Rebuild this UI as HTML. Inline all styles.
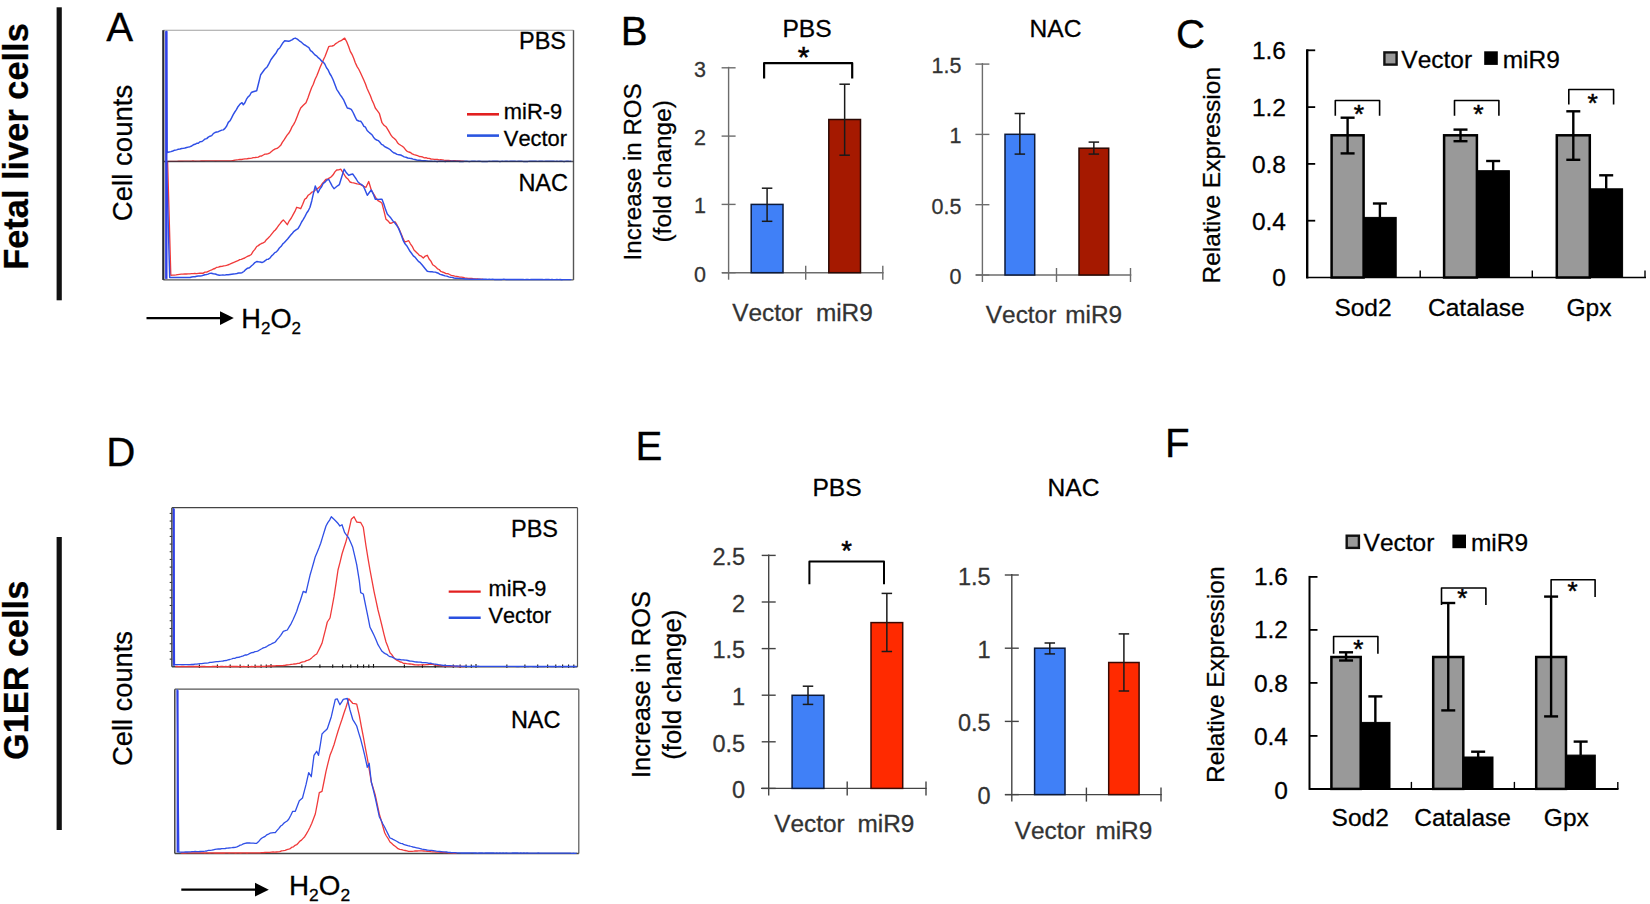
<!DOCTYPE html>
<html lang="en">
<head>
<meta charset="utf-8">
<title>Figure: miR-9 and ROS</title>
<style>
html,body{margin:0;padding:0;background:#fff;}
body{width:1650px;height:904px;overflow:hidden;}
svg{display:block;}
svg text{font-family:'Liberation Sans', sans-serif;font-kerning:none;}
</style>
</head>
<body>
<svg width="1650" height="904" viewBox="0 0 1650 904" font-family="'Liberation Sans', sans-serif">
<rect x="0" y="0" width="1650" height="904" fill="#fff"/>
<text x="27.60" y="269.80" font-size="34.4" text-anchor="start" font-weight="bold" fill="#000" transform="rotate(-90 27.60 269.80)" stroke="#000" stroke-width="0.28">Fetal liver cells</text>
<rect x="56.60" y="7.30" width="5.20" height="293.00" fill="#111" stroke="none" stroke-width="0"/>
<text x="28.00" y="760.00" font-size="34.3" text-anchor="start" font-weight="bold" fill="#000" transform="rotate(-90 28.00 760.00)" stroke="#000" stroke-width="0.28">G1ER cells</text>
<rect x="56.60" y="537.00" width="5.20" height="293.00" fill="#111" stroke="none" stroke-width="0"/>
<text x="106.20" y="40.90" font-size="40.3" text-anchor="start" font-weight="normal" fill="#000" stroke="#000" stroke-width="0.28">A</text>
<text x="132.40" y="221.20" font-size="27.6" text-anchor="start" font-weight="normal" fill="#000" transform="rotate(-90 132.40 221.20)" stroke="#000" stroke-width="0.28">Cell counts</text>
<line x1="163.30" y1="30.20" x2="573.50" y2="30.20" stroke="#a0a0a0" stroke-width="1.1"/>
<line x1="573.50" y1="30.20" x2="573.50" y2="279.90" stroke="#555" stroke-width="1.4"/>
<line x1="163.30" y1="279.90" x2="573.50" y2="279.90" stroke="#555" stroke-width="1.4"/>
<polyline points="167.3,161.3 168.9,161.3 170.5,161.3 172.2,161.4 173.8,161.3 175.4,161.3 177.0,161.3 178.6,161.2 180.2,161.2 181.8,161.2 183.4,161.2 185.0,161.1 186.6,161.1 188.2,161.1 189.8,161.2 191.4,161.2 193.0,161.0 194.6,161.2 196.3,161.2 197.9,161.1 199.5,161.1 201.1,161.0 202.7,160.9 204.3,161.0 205.9,160.9 207.5,160.9 209.1,160.9 210.7,160.9 212.3,160.9 213.9,160.9 215.5,161.0 217.1,160.9 218.8,160.9 220.4,160.9 222.0,160.9 223.6,160.8 225.2,160.8 226.8,160.9 228.4,160.9 230.0,160.8 231.7,160.7 233.3,160.5 235.0,160.1 236.7,159.9 238.3,159.7 240.0,159.4 241.7,159.5 243.3,159.2 245.0,158.9 246.7,158.9 248.3,158.5 250.0,158.4 251.7,158.2 253.3,157.6 255.0,157.5 256.7,157.3 258.3,157.1 260.0,156.2 261.7,156.0 263.3,155.0 265.0,154.2 266.7,154.0 268.3,153.6 270.0,152.8 271.8,151.3 273.6,149.8 275.3,148.9 277.1,148.4 278.9,146.9 280.7,145.3 282.3,142.4 283.9,140.2 285.5,137.6 287.1,135.1 288.7,133.3 290.3,130.7 292.0,126.9 293.7,124.4 295.3,121.3 297.1,116.8 298.9,112.0 300.7,108.0 303.3,105.3 306.0,102.7 308.0,97.7 310.0,92.0 311.7,87.5 313.3,84.2 315.0,79.5 316.7,76.0 318.3,71.9 320.0,67.6 321.7,63.7 323.3,60.0 325.1,56.2 326.9,51.5 328.7,46.7 330.4,46.1 332.2,46.0 334.0,45.3 335.8,43.6 337.6,42.5 339.3,41.3 341.1,40.7 342.9,39.4 344.7,38.1 346.7,41.8 348.7,46.7 350.3,51.4 352.0,54.3 353.7,58.3 355.3,62.7 357.1,66.6 358.9,69.5 360.7,73.3 362.3,76.8 363.9,80.2 365.5,84.0 367.1,88.4 368.7,92.0 370.3,95.6 372.0,100.1 373.7,103.8 375.3,108.0 377.3,110.6 379.3,113.3 382.0,122.7 384.0,125.3 386.0,126.7 387.7,129.3 389.3,132.1 391.0,135.2 392.7,137.3 394.3,138.5 395.9,140.0 397.5,142.7 399.1,144.2 400.7,145.3 402.3,146.3 403.9,147.6 405.5,149.7 407.1,151.3 408.7,152.0 410.4,152.5 412.2,153.9 414.0,154.6 415.8,155.1 417.6,155.7 419.3,156.5 421.0,156.7 422.7,157.0 424.3,157.8 426.0,157.7 427.7,158.3 429.3,158.4 431.0,159.0 432.7,159.2 434.3,159.4 435.9,159.4 437.5,159.5 439.1,159.8 440.7,159.7 442.3,159.9 443.9,160.2 445.5,160.4 447.1,160.4 448.7,160.5 450.3,160.6 451.9,160.8 453.5,160.7 455.1,160.7 456.7,160.9 458.3,161.0 459.9,161.0 461.5,161.1 463.1,161.2 464.7,161.3" fill="none" stroke="#f03a3a" stroke-width="1.35" stroke-linejoin="round"/>
<polyline points="166.5,30.7 167.1,152.5 169.0,152.0 170.9,151.6 172.8,151.0 174.7,150.2 176.7,149.9 178.3,149.2 180.0,149.0 181.7,148.5 183.3,148.4 185.0,148.0 186.7,147.5 188.3,147.1 190.0,146.7 191.7,146.0 193.3,144.8 195.0,144.3 196.7,143.3 198.3,143.2 200.0,141.7 201.7,141.6 203.3,140.5 205.0,139.0 206.7,138.6 208.3,137.1 210.0,136.2 211.7,135.6 213.3,133.6 215.0,132.5 216.7,132.0 218.3,131.7 220.0,130.9 221.7,130.1 223.3,129.9 225.0,128.4 226.7,126.0 228.3,122.4 230.0,120.8 231.6,117.9 233.2,114.6 234.8,112.0 236.4,109.7 238.0,106.7 240.0,104.1 242.0,102.7 243.3,104.8 244.9,102.7 246.5,99.2 248.1,96.9 249.7,95.5 251.3,92.5 253.1,91.8 254.9,91.2 256.7,90.7 258.7,82.8 260.7,74.7 262.7,72.0 264.7,69.3 267.3,66.7 269.1,63.4 270.9,59.7 272.7,57.3 274.4,55.0 276.2,52.7 278.0,49.3 279.7,48.0 281.3,45.3 283.0,42.7 284.7,40.8 286.7,41.0 288.7,41.3 290.3,40.7 292.0,39.9 293.7,38.6 295.3,38.1 297.3,39.1 299.3,40.8 300.9,41.8 302.5,43.2 304.1,44.7 305.7,45.5 307.3,46.7 308.9,47.6 310.5,50.6 312.1,51.7 313.7,53.5 315.3,55.2 316.9,56.2 318.5,57.9 320.1,59.2 321.7,61.2 323.3,62.1 324.9,64.3 326.5,67.8 328.1,69.9 329.7,73.5 331.3,76.0 333.1,79.7 334.9,84.5 336.7,89.3 338.4,91.8 340.2,94.9 342.0,97.3 343.8,100.2 345.6,104.4 347.3,108.0 349.3,108.5 351.3,109.3 353.1,112.5 354.9,116.4 356.7,120.0 358.7,121.0 360.7,121.3 362.3,123.4 363.9,126.3 365.5,127.2 367.1,130.5 368.7,132.0 370.3,133.4 371.9,134.7 373.5,137.2 375.1,139.1 376.7,140.0 378.3,140.6 379.9,142.3 381.5,144.4 383.1,145.1 384.7,146.7 386.4,147.5 388.2,148.3 390.0,149.5 391.8,151.2 393.6,152.8 395.3,153.3 397.1,154.4 398.9,154.7 400.7,155.0 402.4,155.9 404.2,156.9 406.0,157.3 407.8,158.0 409.6,158.3 411.3,158.5 413.1,159.1 414.9,159.5 416.7,160.0 418.3,160.2 420.0,160.3 421.7,160.6 423.3,160.8 425.0,160.7 426.7,160.9 428.3,161.3 430.0,161.3 431.6,161.3 433.2,161.4 434.8,161.3 436.4,161.4 438.0,161.4 439.6,161.3 441.2,161.3 442.8,161.3 444.5,161.4 446.1,161.4 447.7,161.3 449.3,161.4 450.9,161.3 452.5,161.3 454.1,161.3 455.7,161.4 457.3,161.3 458.9,161.4 460.5,161.4 462.1,161.4 463.7,161.4 465.3,161.3 466.9,161.3 468.5,161.4 470.2,161.4 471.8,161.3 473.4,161.3 475.0,161.3 476.6,161.4 478.2,161.3 479.8,161.3 481.4,161.4 483.0,161.4 484.6,161.4 486.2,161.4 487.8,161.4 489.4,161.3 491.0,161.4 492.6,161.3 494.2,161.3 495.8,161.3 497.5,161.3 499.1,161.4 500.7,161.4 502.3,161.3 503.9,161.4 505.5,161.3 507.1,161.3 508.7,161.4 510.3,161.3 511.9,161.3 513.5,161.3 515.1,161.3 516.7,161.4 518.3,161.3 519.9,161.3 521.5,161.3 523.2,161.4 524.8,161.4 526.4,161.4 528.0,161.4 529.6,161.3 531.2,161.3 532.8,161.3 534.4,161.3 536.0,161.3 537.6,161.4 539.2,161.3 540.8,161.3 542.4,161.3 544.0,161.4 545.6,161.3 547.2,161.3 548.8,161.3 550.5,161.3 552.1,161.3 553.7,161.3 555.3,161.4 556.9,161.3 558.5,161.4 560.1,161.3 561.7,161.3 563.3,161.4 564.9,161.4 566.5,161.3 568.1,161.3 569.7,161.4 571.3,161.3" fill="none" stroke="#2f4fe6" stroke-width="1.45" stroke-linejoin="round"/>
<polyline points="167.6,162.0 169.2,218.4 170.8,275.3 172.5,275.2 174.3,275.1 176.0,274.9 177.7,274.6 179.5,274.4 181.2,274.2 182.9,274.1 184.7,274.0 186.4,274.0 188.1,273.8 189.8,273.8 191.5,273.6 193.2,273.6 194.8,273.5 196.5,273.6 198.2,273.4 199.9,273.2 201.6,273.2 203.3,273.2 205.0,272.2 206.7,272.1 208.3,271.3 210.0,270.5 211.7,269.8 213.3,269.0 215.0,268.5 216.7,267.3 218.4,267.1 220.2,266.5 222.0,266.4 223.8,265.9 225.6,265.7 227.3,265.2 229.1,264.5 230.9,263.6 232.7,262.8 234.4,262.1 236.2,261.3 238.0,260.7 239.7,259.6 241.3,259.4 243.0,258.6 244.7,258.0 246.3,257.0 248.0,256.1 249.7,255.5 251.3,254.5 253.1,251.4 254.9,249.4 256.7,246.5 258.3,245.6 259.9,244.4 261.5,243.5 263.1,242.9 264.7,242.0 266.4,239.7 268.2,238.0 270.0,236.1 271.8,233.9 273.6,231.6 275.3,230.0 276.9,228.0 278.5,225.6 280.1,223.6 281.7,221.5 283.3,219.9 285.3,222.1 287.3,224.7 289.3,220.8 291.3,218.0 293.1,214.6 294.9,211.4 296.7,207.3 298.7,207.9 300.7,208.7 302.7,204.3 304.7,199.3 306.4,198.1 308.2,195.2 310.0,194.0 311.8,192.2 313.6,191.7 315.3,190.0 317.1,189.1 318.9,187.5 320.7,186.0 322.4,183.4 324.2,181.5 326.0,179.3 327.8,178.8 329.6,177.9 331.3,176.7 333.1,174.8 334.9,171.9 336.7,170.0 338.7,169.8 340.7,169.2 342.7,172.1 344.7,175.3 346.4,177.8 348.2,179.3 350.0,182.0 351.8,182.7 353.6,182.9 355.3,183.3 357.1,183.9 358.9,184.1 360.7,184.7 362.4,185.7 364.2,186.5 366.0,187.3 368.7,181.5 371.3,190.0 373.1,193.2 374.9,196.1 376.7,199.3 378.4,200.9 380.2,201.8 382.0,203.3 384.0,211.1 386.0,219.3 388.0,220.9 390.0,223.3 391.8,223.0 393.6,222.2 395.3,222.0 397.1,225.2 398.9,228.6 400.7,232.7 402.7,237.5 404.7,242.0 406.7,241.4 408.7,240.7 410.4,243.8 412.2,246.3 414.0,250.0 415.8,251.7 417.6,253.4 419.3,255.3 421.3,256.2 423.3,258.0 425.3,256.1 427.3,255.3 429.1,259.0 430.9,261.1 432.7,264.7 434.3,265.8 435.9,267.1 437.5,268.8 439.1,269.5 440.7,271.3 442.4,272.0 444.2,272.6 446.0,273.6 447.8,273.6 449.6,274.5 451.3,275.3 453.0,275.7 454.7,276.2 456.3,276.3 458.0,276.7 459.7,277.1 461.3,277.2 463.0,277.4 464.7,278.0 466.4,278.1 468.1,278.4 469.8,278.4 471.5,278.4 473.2,278.7 474.8,278.8 476.5,278.8 478.2,279.0 479.9,279.1 481.6,279.1 483.3,279.3" fill="none" stroke="#f03a3a" stroke-width="1.35" stroke-linejoin="round"/>
<polyline points="166.5,162.0 168.1,219.3 169.7,277.5 171.4,277.5 173.1,277.5 174.8,277.5 176.5,277.4 178.2,277.4 179.9,277.5 181.6,277.5 183.2,277.4 184.9,277.5 186.6,277.5 188.3,277.5 190.0,277.5 191.7,277.0 193.3,276.8 195.0,276.8 196.7,276.3 198.3,276.0 200.0,276.0 201.7,275.7 203.3,275.3 204.9,274.7 206.5,274.5 208.1,274.1 209.7,273.4 211.3,273.2 213.3,273.8 215.3,274.0 217.3,274.7 219.3,275.3 221.1,275.1 222.9,275.0 224.7,275.1 226.4,274.8 228.2,274.8 230.0,274.5 231.7,274.2 233.4,274.0 235.1,273.9 236.9,273.5 238.6,273.0 240.3,273.0 242.0,272.7 243.9,271.5 245.7,269.6 247.6,268.2 249.5,267.8 251.3,266.0 253.1,264.5 254.9,262.6 256.7,261.5 258.4,261.8 260.2,262.0 262.0,262.5 263.6,261.9 265.2,260.7 266.8,259.4 268.4,259.2 270.0,258.0 271.6,255.9 273.2,254.5 274.8,252.6 276.4,251.9 278.0,250.0 279.6,247.7 281.2,246.3 282.8,243.9 284.4,242.5 286.0,240.7 287.6,239.0 289.2,237.0 290.8,235.0 292.4,233.2 294.0,231.3 296.0,229.9 298.0,228.7 299.8,225.7 301.6,222.0 303.3,219.3 305.0,216.3 306.7,213.0 308.3,210.8 310.0,207.3 311.8,200.7 313.6,192.6 315.3,186.0 318.0,192.7 319.8,189.1 321.6,186.7 323.3,183.3 325.1,182.1 326.9,180.1 328.7,179.3 330.4,182.7 332.2,186.1 334.0,188.7 335.8,187.2 337.6,185.8 339.3,184.7 341.7,177.0 344.1,169.2 346.4,172.8 348.7,175.3 350.7,174.5 352.7,174.0 354.4,176.4 356.2,179.0 358.0,182.0 359.8,183.5 361.6,184.6 363.3,186.0 365.3,190.4 367.3,195.3 369.3,192.5 371.3,190.0 373.3,194.1 375.3,199.3 377.0,199.3 378.7,199.4 380.3,199.3 382.0,199.3 383.8,204.0 385.6,209.6 387.3,214.0 389.1,216.1 390.9,218.1 392.7,220.7 394.4,222.3 396.2,224.7 398.0,227.3 399.8,231.4 401.6,235.9 403.3,240.7 405.0,243.8 406.7,245.7 408.3,248.4 410.0,251.3 411.7,253.5 413.3,255.8 415.0,257.1 416.7,259.3 418.4,261.4 420.2,262.7 422.0,264.7 423.8,267.0 425.6,269.2 427.3,271.3 428.9,271.6 430.5,271.7 432.1,271.8 433.7,272.1 435.3,272.1 436.9,272.7 438.5,273.3 440.1,274.4 441.7,274.7 443.3,275.3 445.1,275.9 446.9,276.1 448.7,276.9 450.4,277.2 452.2,277.4 454.0,278.0 455.6,278.3 457.2,278.3 458.8,278.4 460.4,278.5 462.0,278.6 463.6,278.7 465.2,279.0 466.8,279.0 468.4,279.1 470.0,279.3 471.6,279.3 473.2,279.3 474.8,279.3 476.4,279.4 478.0,279.3 479.7,279.3 481.3,279.4 482.9,279.3 484.5,279.3 486.1,279.3 487.7,279.4 489.3,279.3 490.9,279.4 492.5,279.3 494.1,279.4 495.7,279.4 497.3,279.4 499.0,279.5 500.6,279.4 502.2,279.4 503.8,279.3 505.4,279.4 507.0,279.4 508.6,279.4 510.2,279.5 511.8,279.5 513.4,279.4 515.0,279.5 516.6,279.5 518.3,279.5 519.9,279.4 521.5,279.5 523.1,279.5 524.7,279.6 526.3,279.5 527.9,279.5 529.5,279.6 531.1,279.4 532.7,279.5 534.3,279.5 535.9,279.4 537.6,279.5 539.2,279.5 540.8,279.4 542.4,279.5 544.0,279.6 545.6,279.5 547.2,279.5 548.8,279.5 550.4,279.6 552.0,279.5 553.6,279.6 555.2,279.6 556.9,279.5 558.5,279.6 560.1,279.5 561.7,279.7 563.3,279.6 564.9,279.6 566.5,279.6 568.1,279.6 569.7,279.6 571.3,279.6" fill="none" stroke="#2f4fe6" stroke-width="1.45" stroke-linejoin="round"/>
<line x1="163.30" y1="161.60" x2="573.50" y2="161.60" stroke="#2a2c3a" stroke-width="1.5" opacity="0.8"/>
<line x1="163.30" y1="30.20" x2="163.30" y2="279.90" stroke="#2a2a33" stroke-width="2.2"/>
<line x1="166.30" y1="31.20" x2="166.30" y2="278.90" stroke="#3040e8" stroke-width="2.4"/>
<text x="566.00" y="48.70" font-size="23.5" text-anchor="end" font-weight="normal" fill="#000" stroke="#000" stroke-width="0.28">PBS</text>
<text x="568.00" y="191.30" font-size="23.5" text-anchor="end" font-weight="normal" fill="#000" stroke="#000" stroke-width="0.28">NAC</text>
<line x1="467.00" y1="114.30" x2="499.00" y2="114.30" stroke="#e22020" stroke-width="2.6"/>
<text x="503.80" y="118.80" font-size="21.9" text-anchor="start" font-weight="normal" fill="#000" stroke="#000" stroke-width="0.28">miR-9</text>
<line x1="467.00" y1="135.60" x2="499.00" y2="135.60" stroke="#2a55e0" stroke-width="2.6"/>
<text x="503.80" y="146.20" font-size="21.9" text-anchor="start" font-weight="normal" fill="#000" stroke="#000" stroke-width="0.28">Vector</text>
<line x1="146.50" y1="318.10" x2="225.80" y2="318.10" stroke="#000" stroke-width="2.2"/>
<polygon points="233.8,318.1 220.0,311.2 220.0,325.0" fill="#000"/>
<text x="241.30" y="328.00" font-size="27.2" fill="#000" stroke="#000" stroke-width="0.28">H<tspan font-size="17.0" dy="5.8">2</tspan><tspan font-size="27.2" dy="-5.8">O</tspan><tspan font-size="17.0" dy="5.8">2</tspan></text>
<text x="620.80" y="44.80" font-size="40.3" text-anchor="start" font-weight="normal" fill="#000" stroke="#000" stroke-width="0.28">B</text>
<text x="640.60" y="260.40" font-size="24.15" text-anchor="start" font-weight="normal" fill="#000" transform="rotate(-90 640.60 260.40)" stroke="#000" stroke-width="0.28">Increase in ROS</text>
<text x="671.20" y="242.50" font-size="24.4" text-anchor="start" font-weight="normal" fill="#000" transform="rotate(-90 671.20 242.50)" stroke="#000" stroke-width="0.28">(fold change)</text>
<line x1="728.60" y1="66.80" x2="728.60" y2="279.70" stroke="#6c6c6c" stroke-width="1.4"/>
<line x1="722.00" y1="272.70" x2="883.60" y2="272.70" stroke="#6c6c6c" stroke-width="1.4"/>
<line x1="721.60" y1="272.70" x2="735.60" y2="272.70" stroke="#6c6c6c" stroke-width="1.4"/>
<text x="706.00" y="281.64" font-size="21.5" text-anchor="end" font-weight="normal" fill="#333" stroke="#333" stroke-width="0.28">0</text>
<line x1="721.60" y1="204.40" x2="735.60" y2="204.40" stroke="#6c6c6c" stroke-width="1.4"/>
<text x="706.00" y="213.34" font-size="21.5" text-anchor="end" font-weight="normal" fill="#333" stroke="#333" stroke-width="0.28">1</text>
<line x1="721.60" y1="136.10" x2="735.60" y2="136.10" stroke="#6c6c6c" stroke-width="1.4"/>
<text x="706.00" y="145.04" font-size="21.5" text-anchor="end" font-weight="normal" fill="#333" stroke="#333" stroke-width="0.28">2</text>
<line x1="721.60" y1="67.80" x2="735.60" y2="67.80" stroke="#6c6c6c" stroke-width="1.4"/>
<text x="706.00" y="76.74" font-size="21.5" text-anchor="end" font-weight="normal" fill="#333" stroke="#333" stroke-width="0.28">3</text>
<line x1="805.70" y1="265.70" x2="805.70" y2="279.70" stroke="#6c6c6c" stroke-width="1.4"/>
<line x1="882.80" y1="265.70" x2="882.80" y2="279.70" stroke="#6c6c6c" stroke-width="1.4"/>
<rect x="751.20" y="204.40" width="31.80" height="68.30" fill="#4080f7" stroke="#0c1a3a" stroke-width="1.5"/>
<line x1="767.10" y1="188.20" x2="767.10" y2="221.30" stroke="#1a1a1a" stroke-width="1.5"/>
<line x1="761.85" y1="188.20" x2="772.35" y2="188.20" stroke="#1a1a1a" stroke-width="1.5"/>
<line x1="761.85" y1="221.30" x2="772.35" y2="221.30" stroke="#1a1a1a" stroke-width="1.5"/>
<rect x="828.80" y="119.50" width="31.70" height="153.20" fill="#a51900" stroke="#2a0803" stroke-width="1.5"/>
<line x1="844.65" y1="84.20" x2="844.65" y2="155.20" stroke="#1a1a1a" stroke-width="1.5"/>
<line x1="839.40" y1="84.20" x2="849.90" y2="84.20" stroke="#1a1a1a" stroke-width="1.5"/>
<line x1="839.40" y1="155.20" x2="849.90" y2="155.20" stroke="#1a1a1a" stroke-width="1.5"/>
<text x="807.00" y="36.50" font-size="24.6" text-anchor="middle" font-weight="normal" fill="#000" stroke="#000" stroke-width="0.28">PBS</text>
<text x="732.20" y="321.00" font-size="24.4" text-anchor="start" font-weight="normal" fill="#333" stroke="#333" stroke-width="0.28">Vector</text>
<text x="872.80" y="321.00" font-size="24.4" text-anchor="end" font-weight="normal" fill="#333" stroke="#333" stroke-width="0.28">miR9</text>
<polyline points="764.1,78.4 764.1,63.1 852.2,63.1 852.2,78.4" fill="none" stroke="#000" stroke-width="2.2" stroke-linejoin="round"/>
<text x="803.50" y="66.99" font-size="30" text-anchor="middle" font-weight="normal" fill="#000" stroke="#000" stroke-width="0.5">*</text>
<line x1="982.40" y1="63.10" x2="982.40" y2="282.00" stroke="#6c6c6c" stroke-width="1.4"/>
<line x1="976.00" y1="275.00" x2="1131.30" y2="275.00" stroke="#6c6c6c" stroke-width="1.4"/>
<line x1="975.40" y1="275.00" x2="989.40" y2="275.00" stroke="#6c6c6c" stroke-width="1.4"/>
<text x="961.50" y="283.94" font-size="21.5" text-anchor="end" font-weight="normal" fill="#333" stroke="#333" stroke-width="0.28">0</text>
<line x1="975.40" y1="204.70" x2="989.40" y2="204.70" stroke="#6c6c6c" stroke-width="1.4"/>
<text x="961.50" y="213.64" font-size="21.5" text-anchor="end" font-weight="normal" fill="#333" stroke="#333" stroke-width="0.28">0.5</text>
<line x1="975.40" y1="134.40" x2="989.40" y2="134.40" stroke="#6c6c6c" stroke-width="1.4"/>
<text x="961.50" y="143.34" font-size="21.5" text-anchor="end" font-weight="normal" fill="#333" stroke="#333" stroke-width="0.28">1</text>
<line x1="975.40" y1="64.10" x2="989.40" y2="64.10" stroke="#6c6c6c" stroke-width="1.4"/>
<text x="961.50" y="73.04" font-size="21.5" text-anchor="end" font-weight="normal" fill="#333" stroke="#333" stroke-width="0.28">1.5</text>
<line x1="1056.50" y1="268.00" x2="1056.50" y2="282.00" stroke="#6c6c6c" stroke-width="1.4"/>
<line x1="1130.50" y1="268.00" x2="1130.50" y2="282.00" stroke="#6c6c6c" stroke-width="1.4"/>
<rect x="1005.00" y="134.30" width="29.70" height="140.70" fill="#4080f7" stroke="#0c1a3a" stroke-width="1.5"/>
<line x1="1019.85" y1="113.50" x2="1019.85" y2="154.10" stroke="#1a1a1a" stroke-width="1.5"/>
<line x1="1014.60" y1="113.50" x2="1025.10" y2="113.50" stroke="#1a1a1a" stroke-width="1.5"/>
<line x1="1014.60" y1="154.10" x2="1025.10" y2="154.10" stroke="#1a1a1a" stroke-width="1.5"/>
<rect x="1079.00" y="148.20" width="29.70" height="126.80" fill="#a51900" stroke="#2a0803" stroke-width="1.5"/>
<line x1="1093.85" y1="142.10" x2="1093.85" y2="154.10" stroke="#1a1a1a" stroke-width="1.5"/>
<line x1="1088.60" y1="142.10" x2="1099.10" y2="142.10" stroke="#1a1a1a" stroke-width="1.5"/>
<line x1="1088.60" y1="154.10" x2="1099.10" y2="154.10" stroke="#1a1a1a" stroke-width="1.5"/>
<text x="1055.50" y="36.80" font-size="24.6" text-anchor="middle" font-weight="normal" fill="#000" stroke="#000" stroke-width="0.28">NAC</text>
<text x="985.80" y="322.60" font-size="24.4" text-anchor="start" font-weight="normal" fill="#333" stroke="#333" stroke-width="0.28">Vector</text>
<text x="1122.20" y="322.60" font-size="24.4" text-anchor="end" font-weight="normal" fill="#333" stroke="#333" stroke-width="0.28">miR9</text>
<text x="1176.00" y="47.60" font-size="40.3" text-anchor="start" font-weight="normal" fill="#000" stroke="#000" stroke-width="0.28">C</text>
<line x1="1307.20" y1="49.30" x2="1307.20" y2="278.50" stroke="#000" stroke-width="2.4"/>
<line x1="1307.20" y1="277.50" x2="1646.00" y2="277.50" stroke="#000" stroke-width="1.3"/>
<text x="1286.00" y="286.32" font-size="24.5" text-anchor="end" font-weight="normal" fill="#000" stroke="#000" stroke-width="0.28">0</text>
<line x1="1307.20" y1="220.70" x2="1315.20" y2="220.70" stroke="#000" stroke-width="1.8"/>
<text x="1286.00" y="229.52" font-size="24.5" text-anchor="end" font-weight="normal" fill="#000" stroke="#000" stroke-width="0.28">0.4</text>
<line x1="1307.20" y1="163.90" x2="1315.20" y2="163.90" stroke="#000" stroke-width="1.8"/>
<text x="1286.00" y="172.72" font-size="24.5" text-anchor="end" font-weight="normal" fill="#000" stroke="#000" stroke-width="0.28">0.8</text>
<line x1="1307.20" y1="107.10" x2="1315.20" y2="107.10" stroke="#000" stroke-width="1.8"/>
<text x="1286.00" y="115.92" font-size="24.5" text-anchor="end" font-weight="normal" fill="#000" stroke="#000" stroke-width="0.28">1.2</text>
<line x1="1307.20" y1="50.30" x2="1315.20" y2="50.30" stroke="#000" stroke-width="1.8"/>
<text x="1286.00" y="59.12" font-size="24.5" text-anchor="end" font-weight="normal" fill="#000" stroke="#000" stroke-width="0.28">1.6</text>
<line x1="1420.20" y1="270.50" x2="1420.20" y2="277.50" stroke="#000" stroke-width="1.4"/>
<line x1="1532.30" y1="270.50" x2="1532.30" y2="277.50" stroke="#000" stroke-width="1.4"/>
<line x1="1645.00" y1="270.50" x2="1645.00" y2="277.50" stroke="#000" stroke-width="1.4"/>
<rect x="1331.60" y="135.30" width="32.00" height="142.20" fill="#999999" stroke="#000" stroke-width="2.5"/>
<rect x="1363.60" y="217.40" width="32.60" height="60.10" fill="#000" stroke="#000" stroke-width="1"/>
<line x1="1347.60" y1="117.70" x2="1347.60" y2="153.40" stroke="#000" stroke-width="2.4"/>
<line x1="1340.60" y1="117.70" x2="1354.60" y2="117.70" stroke="#000" stroke-width="2.4"/>
<line x1="1340.60" y1="153.40" x2="1354.60" y2="153.40" stroke="#000" stroke-width="2.4"/>
<line x1="1379.90" y1="203.50" x2="1379.90" y2="217.40" stroke="#000" stroke-width="2.4"/>
<line x1="1372.90" y1="203.50" x2="1386.90" y2="203.50" stroke="#000" stroke-width="2.4"/>
<rect x="1444.10" y="135.30" width="32.80" height="142.20" fill="#999999" stroke="#000" stroke-width="2.5"/>
<rect x="1476.90" y="170.70" width="32.50" height="106.80" fill="#000" stroke="#000" stroke-width="1"/>
<line x1="1460.50" y1="129.60" x2="1460.50" y2="141.20" stroke="#000" stroke-width="2.4"/>
<line x1="1453.50" y1="129.60" x2="1467.50" y2="129.60" stroke="#000" stroke-width="2.4"/>
<line x1="1453.50" y1="141.20" x2="1467.50" y2="141.20" stroke="#000" stroke-width="2.4"/>
<line x1="1493.15" y1="161.00" x2="1493.15" y2="170.70" stroke="#000" stroke-width="2.4"/>
<line x1="1486.15" y1="161.00" x2="1500.15" y2="161.00" stroke="#000" stroke-width="2.4"/>
<rect x="1556.80" y="135.30" width="33.00" height="142.20" fill="#999999" stroke="#000" stroke-width="2.5"/>
<rect x="1589.80" y="188.80" width="32.80" height="88.70" fill="#000" stroke="#000" stroke-width="1"/>
<line x1="1573.30" y1="111.30" x2="1573.30" y2="159.80" stroke="#000" stroke-width="2.4"/>
<line x1="1566.30" y1="111.30" x2="1580.30" y2="111.30" stroke="#000" stroke-width="2.4"/>
<line x1="1566.30" y1="159.80" x2="1580.30" y2="159.80" stroke="#000" stroke-width="2.4"/>
<line x1="1606.20" y1="175.30" x2="1606.20" y2="188.80" stroke="#000" stroke-width="2.4"/>
<line x1="1599.20" y1="175.30" x2="1613.20" y2="175.30" stroke="#000" stroke-width="2.4"/>
<text x="1363.00" y="315.90" font-size="24.5" text-anchor="middle" font-weight="normal" fill="#000" stroke="#000" stroke-width="0.28">Sod2</text>
<text x="1476.40" y="315.90" font-size="24.5" text-anchor="middle" font-weight="normal" fill="#000" stroke="#000" stroke-width="0.28">Catalase</text>
<text x="1589.00" y="315.90" font-size="24.5" text-anchor="middle" font-weight="normal" fill="#000" stroke="#000" stroke-width="0.28">Gpx</text>
<rect x="1384.40" y="52.40" width="12.20" height="12.20" fill="#999999" stroke="#111" stroke-width="2.4"/>
<text x="1401.30" y="67.50" font-size="24.5" text-anchor="start" font-weight="normal" fill="#000" stroke="#000" stroke-width="0.28">Vector</text>
<rect x="1484.20" y="51.30" width="13.60" height="13.60" fill="#000" stroke="none" stroke-width="0"/>
<text x="1502.70" y="67.50" font-size="24.5" text-anchor="start" font-weight="normal" fill="#000" stroke="#000" stroke-width="0.28">miR9</text>
<text x="1220.30" y="283.50" font-size="24.5" text-anchor="start" font-weight="normal" fill="#000" transform="rotate(-90 1220.30 283.50)" stroke="#000" stroke-width="0.28">Relative Expression</text>
<polyline points="1335.3,115.8 1335.3,100.5 1379.6,100.5 1379.6,115.8" fill="none" stroke="#000" stroke-width="1.6" stroke-linejoin="round"/>
<text x="1359.00" y="122.79" font-size="26.5" text-anchor="middle" font-weight="normal" fill="#000" stroke="#000" stroke-width="0.5">*</text>
<polyline points="1454.5,115.8 1454.5,100.5 1498.9,100.5 1498.9,115.8" fill="none" stroke="#000" stroke-width="1.6" stroke-linejoin="round"/>
<text x="1478.30" y="122.79" font-size="26.5" text-anchor="middle" font-weight="normal" fill="#000" stroke="#000" stroke-width="0.5">*</text>
<polyline points="1568.8,104.5 1568.8,89.5 1613.6,89.5 1613.6,104.5" fill="none" stroke="#000" stroke-width="1.6" stroke-linejoin="round"/>
<text x="1592.60" y="112.49" font-size="26.5" text-anchor="middle" font-weight="normal" fill="#000" stroke="#000" stroke-width="0.5">*</text>
<text x="106.20" y="466.00" font-size="40.3" text-anchor="start" font-weight="normal" fill="#000" stroke="#000" stroke-width="0.28">D</text>
<text x="131.70" y="766.00" font-size="27.3" text-anchor="start" font-weight="normal" fill="#000" transform="rotate(-90 131.70 766.00)" stroke="#000" stroke-width="0.28">Cell counts</text>
<line x1="171.90" y1="507.70" x2="577.50" y2="507.70" stroke="#444" stroke-width="1.2"/>
<line x1="577.50" y1="507.70" x2="577.50" y2="666.80" stroke="#555" stroke-width="1.2"/>
<line x1="171.90" y1="666.80" x2="577.50" y2="666.80" stroke="#444" stroke-width="1.5"/>
<line x1="199.36" y1="664.60" x2="199.36" y2="667.70" stroke="#111" stroke-width="1.1"/>
<line x1="217.40" y1="664.60" x2="217.40" y2="667.70" stroke="#111" stroke-width="1.1"/>
<line x1="230.21" y1="664.60" x2="230.21" y2="667.70" stroke="#111" stroke-width="1.1"/>
<line x1="240.14" y1="664.60" x2="240.14" y2="667.70" stroke="#111" stroke-width="1.1"/>
<line x1="248.26" y1="664.60" x2="248.26" y2="667.70" stroke="#111" stroke-width="1.1"/>
<line x1="255.12" y1="664.60" x2="255.12" y2="667.70" stroke="#111" stroke-width="1.1"/>
<line x1="261.07" y1="664.60" x2="261.07" y2="667.70" stroke="#111" stroke-width="1.1"/>
<line x1="266.31" y1="664.60" x2="266.31" y2="667.70" stroke="#111" stroke-width="1.1"/>
<line x1="271.00" y1="664.00" x2="271.00" y2="667.70" stroke="#111" stroke-width="1.1"/>
<line x1="301.86" y1="664.60" x2="301.86" y2="667.70" stroke="#111" stroke-width="1.1"/>
<line x1="319.90" y1="664.60" x2="319.90" y2="667.70" stroke="#111" stroke-width="1.1"/>
<line x1="332.71" y1="664.60" x2="332.71" y2="667.70" stroke="#111" stroke-width="1.1"/>
<line x1="342.64" y1="664.60" x2="342.64" y2="667.70" stroke="#111" stroke-width="1.1"/>
<line x1="350.76" y1="664.60" x2="350.76" y2="667.70" stroke="#111" stroke-width="1.1"/>
<line x1="357.62" y1="664.60" x2="357.62" y2="667.70" stroke="#111" stroke-width="1.1"/>
<line x1="363.57" y1="664.60" x2="363.57" y2="667.70" stroke="#111" stroke-width="1.1"/>
<line x1="368.81" y1="664.60" x2="368.81" y2="667.70" stroke="#111" stroke-width="1.1"/>
<line x1="373.50" y1="664.00" x2="373.50" y2="667.70" stroke="#111" stroke-width="1.1"/>
<line x1="404.36" y1="664.60" x2="404.36" y2="667.70" stroke="#111" stroke-width="1.1"/>
<line x1="422.40" y1="664.60" x2="422.40" y2="667.70" stroke="#111" stroke-width="1.1"/>
<line x1="435.21" y1="664.60" x2="435.21" y2="667.70" stroke="#111" stroke-width="1.1"/>
<line x1="445.14" y1="664.60" x2="445.14" y2="667.70" stroke="#111" stroke-width="1.1"/>
<line x1="453.26" y1="664.60" x2="453.26" y2="667.70" stroke="#111" stroke-width="1.1"/>
<line x1="460.12" y1="664.60" x2="460.12" y2="667.70" stroke="#111" stroke-width="1.1"/>
<line x1="466.07" y1="664.60" x2="466.07" y2="667.70" stroke="#111" stroke-width="1.1"/>
<line x1="471.31" y1="664.60" x2="471.31" y2="667.70" stroke="#111" stroke-width="1.1"/>
<line x1="476.00" y1="664.00" x2="476.00" y2="667.70" stroke="#111" stroke-width="1.1"/>
<line x1="506.86" y1="664.60" x2="506.86" y2="667.70" stroke="#111" stroke-width="1.1"/>
<line x1="524.90" y1="664.60" x2="524.90" y2="667.70" stroke="#111" stroke-width="1.1"/>
<line x1="537.71" y1="664.60" x2="537.71" y2="667.70" stroke="#111" stroke-width="1.1"/>
<line x1="547.64" y1="664.60" x2="547.64" y2="667.70" stroke="#111" stroke-width="1.1"/>
<line x1="555.76" y1="664.60" x2="555.76" y2="667.70" stroke="#111" stroke-width="1.1"/>
<line x1="562.62" y1="664.60" x2="562.62" y2="667.70" stroke="#111" stroke-width="1.1"/>
<line x1="568.57" y1="664.60" x2="568.57" y2="667.70" stroke="#111" stroke-width="1.1"/>
<line x1="573.81" y1="664.60" x2="573.81" y2="667.70" stroke="#111" stroke-width="1.1"/>
<line x1="169.70" y1="659.13" x2="172.20" y2="659.13" stroke="#222" stroke-width="1.0"/>
<line x1="169.70" y1="651.46" x2="172.20" y2="651.46" stroke="#222" stroke-width="1.0"/>
<line x1="169.70" y1="643.79" x2="172.20" y2="643.79" stroke="#222" stroke-width="1.0"/>
<line x1="169.70" y1="636.12" x2="172.20" y2="636.12" stroke="#222" stroke-width="1.0"/>
<line x1="169.70" y1="628.45" x2="172.20" y2="628.45" stroke="#222" stroke-width="1.0"/>
<line x1="169.70" y1="620.78" x2="172.20" y2="620.78" stroke="#222" stroke-width="1.0"/>
<line x1="169.70" y1="613.11" x2="172.20" y2="613.11" stroke="#222" stroke-width="1.0"/>
<line x1="169.70" y1="605.44" x2="172.20" y2="605.44" stroke="#222" stroke-width="1.0"/>
<line x1="169.70" y1="597.77" x2="172.20" y2="597.77" stroke="#222" stroke-width="1.0"/>
<line x1="169.70" y1="590.10" x2="172.20" y2="590.10" stroke="#222" stroke-width="1.0"/>
<line x1="169.70" y1="582.43" x2="172.20" y2="582.43" stroke="#222" stroke-width="1.0"/>
<line x1="169.70" y1="574.76" x2="172.20" y2="574.76" stroke="#222" stroke-width="1.0"/>
<line x1="169.70" y1="567.09" x2="172.20" y2="567.09" stroke="#222" stroke-width="1.0"/>
<line x1="169.70" y1="559.42" x2="172.20" y2="559.42" stroke="#222" stroke-width="1.0"/>
<line x1="169.70" y1="551.75" x2="172.20" y2="551.75" stroke="#222" stroke-width="1.0"/>
<line x1="169.70" y1="544.08" x2="172.20" y2="544.08" stroke="#222" stroke-width="1.0"/>
<line x1="169.70" y1="536.41" x2="172.20" y2="536.41" stroke="#222" stroke-width="1.0"/>
<line x1="169.70" y1="528.74" x2="172.20" y2="528.74" stroke="#222" stroke-width="1.0"/>
<line x1="169.70" y1="521.07" x2="172.20" y2="521.07" stroke="#222" stroke-width="1.0"/>
<line x1="169.70" y1="513.40" x2="172.20" y2="513.40" stroke="#222" stroke-width="1.0"/>
<polyline points="175.3,666.5 177.0,666.5 178.6,666.6 180.2,666.6 181.8,666.5 183.5,666.5 185.1,666.6 186.7,666.6 188.3,666.5 190.0,666.5 191.6,666.5 193.2,666.5 194.9,666.5 196.5,666.5 198.1,666.5 199.7,666.6 201.4,666.5 203.0,666.5 204.6,666.5 206.2,666.6 207.9,666.6 209.5,666.6 211.1,666.6 212.7,666.5 214.4,666.5 216.0,666.5 217.6,666.5 219.3,666.6 220.9,666.5 222.5,666.5 224.1,666.6 225.8,666.5 227.4,666.6 229.0,666.5 230.6,666.5 232.3,666.5 233.9,666.5 235.5,666.5 237.1,666.5 238.8,666.6 240.4,666.5 242.0,666.6 243.7,666.5 245.3,666.6 246.9,666.6 248.5,666.6 250.2,666.6 251.8,666.5 253.4,666.6 255.0,666.5 256.7,666.5 258.3,666.5 260.0,666.5 261.7,666.3 263.3,666.4 265.0,666.3 266.7,666.1 268.3,666.0 270.0,666.0 271.7,665.9 273.3,666.0 275.0,665.8 276.7,665.6 278.3,665.6 280.0,665.6 281.7,665.6 283.3,665.5 284.9,665.3 286.5,665.0 288.1,664.8 289.7,664.7 291.3,664.3 292.9,664.2 294.5,664.0 296.1,663.8 297.7,663.4 299.3,663.3 301.1,662.4 302.9,661.9 304.7,661.6 306.4,660.6 308.2,660.1 310.0,659.3 311.7,657.9 313.3,656.4 315.0,655.0 316.7,654.0 318.4,650.7 320.2,647.1 322.0,643.3 323.8,636.1 325.6,629.2 327.3,622.0 330.0,618.0 332.0,607.5 334.0,596.7 336.0,583.6 338.0,570.0 340.0,562.3 342.0,554.0 343.8,548.2 345.6,542.8 347.3,536.7 349.3,528.3 351.3,519.3 354.0,516.7 356.7,522.0 358.7,522.3 360.7,522.5 363.3,527.3 366.0,546.0 368.0,558.3 370.0,570.0 372.0,580.7 374.0,591.3 376.0,600.6 378.0,610.0 380.0,617.8 382.0,626.0 384.0,634.3 386.0,642.0 388.0,647.1 390.0,652.7 391.8,654.6 393.6,657.3 395.3,659.3 396.9,660.3 398.5,660.9 400.1,662.0 401.7,662.2 403.3,663.3 405.0,663.4 406.7,663.7 408.3,663.9 410.0,664.0 411.7,664.2 413.3,664.5 415.0,664.9 416.7,664.9 418.3,665.0 419.9,664.9 421.5,664.8 423.1,664.7 424.7,664.8 426.3,664.6 427.9,664.6 429.5,664.4 431.1,664.4 432.7,664.4 434.4,664.8 436.2,665.1 438.0,665.4 439.8,665.5 441.6,665.7 443.3,666.0 445.0,666.1 446.6,666.2 448.3,666.1 449.9,666.2 451.5,666.2 453.2,666.3 454.8,666.2 456.5,666.4 458.1,666.5 459.7,666.3 461.4,666.5 463.0,666.5 464.7,666.5" fill="none" stroke="#f03a3a" stroke-width="1.3" stroke-linejoin="round"/>
<polyline points="173.5,507.9 174.5,664.7 176.7,664.7 178.3,664.7 180.0,664.6 181.7,664.6 183.3,664.7 185.0,664.6 186.7,664.6 188.3,664.7 190.0,664.7 191.7,664.5 193.3,664.5 195.0,664.1 196.7,664.1 198.3,663.8 200.0,663.7 201.7,663.6 203.3,663.3 205.0,663.2 206.6,663.1 208.3,662.8 209.9,662.4 211.5,662.4 213.2,662.1 214.8,661.8 216.5,661.6 218.1,661.6 219.7,661.3 221.4,661.2 223.0,661.0 224.7,660.7 226.4,660.5 228.1,659.8 229.8,659.5 231.5,659.0 233.2,658.3 234.8,658.3 236.5,657.5 238.2,657.3 239.9,657.0 241.6,656.4 243.3,655.9 245.0,655.0 246.7,655.0 248.3,654.3 250.0,653.4 251.7,652.7 253.3,652.5 255.0,651.6 256.7,651.3 258.3,650.8 260.0,649.7 261.7,648.8 263.3,647.9 265.0,647.3 266.7,646.6 268.3,645.4 270.0,644.7 271.8,643.7 273.6,642.9 275.3,642.0 277.1,639.6 278.9,637.6 280.7,635.3 283.3,631.3 285.3,630.7 287.3,630.0 289.3,626.6 291.3,623.3 293.1,619.5 294.9,615.4 296.7,611.3 298.4,605.7 300.2,601.0 302.0,595.3 303.3,591.3 306.0,592.7 308.0,583.9 310.0,575.3 311.8,569.1 313.6,562.8 315.3,556.7 317.1,552.5 318.9,548.1 320.7,543.3 322.4,537.6 324.2,531.7 326.0,526.0 327.8,522.6 329.6,520.1 331.3,516.7 334.0,519.3 336.7,522.0 338.3,523.8 339.9,526.0 342.0,524.7 344.7,532.7 346.7,535.4 348.7,538.0 350.7,542.6 352.7,547.3 354.7,555.9 356.7,564.7 359.3,580.7 360.7,592.7 363.3,594.0 366.0,607.3 368.0,617.2 370.0,627.3 372.0,631.1 374.0,635.3 376.0,639.7 378.0,644.7 380.0,648.0 382.0,651.3 383.6,652.6 385.2,653.6 386.8,654.3 388.4,655.7 390.0,656.7 391.6,656.9 393.2,657.7 394.8,658.5 396.4,659.1 398.0,659.3 399.6,659.5 401.2,659.8 402.8,659.8 404.4,660.0 406.0,660.1 407.8,660.5 409.6,661.0 411.3,661.2 413.1,661.4 414.9,661.8 416.7,662.0 418.4,662.2 420.2,662.2 422.0,662.5 423.8,662.6 425.6,662.7 427.3,662.8 428.9,663.3 430.5,663.1 432.1,663.6 433.7,663.9 435.3,664.1 436.9,664.3 438.5,664.7 440.1,664.9 441.7,665.1 443.3,665.5 445.0,665.4 446.7,665.7 448.4,665.7 450.1,665.7 451.8,665.8 453.5,665.8 455.2,666.1 456.9,666.0 458.6,666.1 460.3,666.1 462.0,666.3 463.6,666.3 465.2,666.2 466.8,666.3 468.5,666.3 470.1,666.4 471.7,666.3 473.3,666.2 474.9,666.3 476.5,666.4 478.2,666.2 479.8,666.3 481.4,666.3 483.0,666.3 484.6,666.4 486.2,666.4 487.8,666.3 489.5,666.3 491.1,666.3 492.7,666.3 494.3,666.3 495.9,666.4 497.5,666.3 499.1,666.4 500.8,666.4 502.4,666.3 504.0,666.4 505.6,666.4 507.2,666.3 508.8,666.4 510.5,666.3 512.1,666.4 513.7,666.3 515.3,666.4 516.9,666.5 518.5,666.5 520.1,666.4 521.8,666.4 523.4,666.4 525.0,666.4 526.6,666.5 528.2,666.5 529.8,666.3 531.4,666.4 533.1,666.5 534.7,666.4 536.3,666.5 537.9,666.5 539.5,666.5 541.1,666.4 542.8,666.5 544.4,666.5 546.0,666.4 547.6,666.4 549.2,666.4 550.8,666.5 552.4,666.5 554.1,666.5 555.7,666.5 557.3,666.6 558.9,666.4 560.5,666.5 562.1,666.6 563.7,666.5 565.4,666.5 567.0,666.5 568.6,666.5 570.2,666.5 571.8,666.4 573.4,666.5 575.1,666.5 576.7,666.5" fill="none" stroke="#2f4fe6" stroke-width="1.3" stroke-linejoin="round"/>
<line x1="171.90" y1="507.70" x2="171.90" y2="666.80" stroke="#444" stroke-width="1.5"/>
<line x1="173.80" y1="508.70" x2="173.80" y2="665.80" stroke="#3040e8" stroke-width="2.0"/>
<text x="558.00" y="536.80" font-size="23.5" text-anchor="end" font-weight="normal" fill="#000" stroke="#000" stroke-width="0.28">PBS</text>
<line x1="448.70" y1="591.60" x2="480.70" y2="591.60" stroke="#e22020" stroke-width="2.4"/>
<text x="488.60" y="595.80" font-size="21.7" text-anchor="start" font-weight="normal" fill="#000" stroke="#000" stroke-width="0.28">miR-9</text>
<line x1="448.70" y1="617.80" x2="480.70" y2="617.80" stroke="#2a50e0" stroke-width="2.4"/>
<text x="488.60" y="622.80" font-size="21.7" text-anchor="start" font-weight="normal" fill="#000" stroke="#000" stroke-width="0.28">Vector</text>
<line x1="174.80" y1="689.20" x2="578.80" y2="689.20" stroke="#555" stroke-width="1.2"/>
<line x1="578.80" y1="689.20" x2="578.80" y2="853.50" stroke="#555" stroke-width="1.2"/>
<line x1="174.80" y1="853.50" x2="578.80" y2="853.50" stroke="#444" stroke-width="1.5"/>
<polyline points="180.7,852.9 182.3,853.0 183.9,853.0 185.5,853.0 187.1,852.9 188.8,852.9 190.4,852.9 192.0,852.9 193.6,852.9 195.2,852.9 196.8,852.9 198.5,852.9 200.1,852.9 201.7,852.9 203.3,852.9 204.9,853.0 206.5,852.9 208.2,852.9 209.8,853.0 211.4,852.9 213.0,852.9 214.6,853.0 216.2,852.9 217.9,853.0 219.5,853.0 221.1,853.0 222.7,852.9 224.3,853.0 225.9,852.9 227.6,852.9 229.2,853.0 230.8,852.9 232.4,852.9 234.0,852.9 235.6,853.0 237.3,852.9 238.9,852.9 240.5,853.0 242.1,852.9 243.7,852.9 245.3,852.9 247.0,853.0 248.6,852.9 250.2,852.9 251.8,852.9 253.4,852.9 255.0,852.9 256.7,852.9 258.3,852.9 259.9,852.8 261.6,852.6 263.2,852.6 264.9,852.5 266.5,852.4 268.2,852.4 269.8,852.3 271.4,852.1 273.1,852.0 274.7,852.1 276.4,852.0 278.0,851.9 279.8,851.6 281.6,850.8 283.3,850.6 285.1,850.3 286.9,849.7 288.7,849.2 290.3,848.6 291.9,847.2 293.5,846.8 295.1,845.3 296.7,844.7 298.3,843.0 299.9,841.1 301.5,840.1 303.1,838.4 304.7,836.7 306.4,833.9 308.2,830.7 310.0,827.3 311.8,823.2 313.6,818.5 315.3,814.0 317.3,803.7 319.3,792.7 322.0,791.3 324.0,781.5 326.0,771.3 328.0,763.2 330.0,755.3 332.0,750.3 334.0,744.7 336.0,737.9 338.0,731.3 340.0,725.1 342.0,719.3 344.0,713.0 346.0,707.3 348.7,698.8 350.7,701.0 352.7,703.3 354.7,703.6 356.7,704.1 359.3,715.3 361.3,726.3 363.3,736.7 365.3,747.6 367.3,758.0 369.3,769.8 371.3,782.0 373.3,788.4 375.3,795.3 377.3,804.7 379.3,814.0 381.1,820.0 382.9,826.5 384.7,832.7 386.4,836.0 388.2,838.7 390.0,842.0 391.6,843.3 393.2,844.9 394.8,846.0 396.4,847.2 398.0,848.7 399.8,849.3 401.6,849.7 403.3,850.2 405.1,850.5 406.9,850.8 408.7,851.3 410.3,851.3 412.0,851.3 413.7,851.2 415.3,851.0 417.0,851.0 418.7,850.9 420.3,850.9 422.0,850.8 423.8,851.0 425.6,851.2 427.3,851.4 429.1,851.4 430.9,851.7 432.7,851.9 434.3,851.9 435.9,852.1 437.5,852.2 439.1,852.2 440.7,852.4 442.3,852.3 443.9,852.5 445.5,852.6 447.1,852.6 448.7,852.8 450.3,852.8 451.9,852.9 453.5,853.1 455.1,853.0 456.7,853.2" fill="none" stroke="#f03a3a" stroke-width="1.3" stroke-linejoin="round"/>
<polyline points="177.2,689.2 178.8,852.1 180.7,852.1 182.3,852.1 183.9,852.1 185.5,851.9 187.1,852.0 188.8,851.8 190.4,851.8 192.0,851.6 193.6,851.7 195.2,851.5 196.9,851.6 198.5,851.6 200.1,851.5 201.7,851.4 203.3,851.3 205.0,851.2 206.7,851.0 208.3,850.4 210.0,850.3 211.7,850.2 213.3,849.8 215.0,849.4 216.7,849.2 218.4,849.0 220.1,849.0 221.8,848.6 223.5,848.6 225.2,848.5 226.8,848.1 228.5,848.0 230.2,847.8 231.9,847.7 233.6,847.5 235.3,847.3 236.9,846.9 238.5,846.2 240.1,845.1 241.7,844.8 243.3,843.9 245.1,843.3 246.9,843.0 248.7,842.8 250.3,843.0 251.9,843.1 253.5,843.2 255.1,843.4 256.7,843.3 258.4,841.8 260.2,839.6 262.0,838.0 263.6,837.2 265.2,836.4 266.8,834.8 268.4,834.2 270.0,833.2 271.8,832.9 273.6,832.7 275.3,832.7 277.1,830.4 278.9,828.3 280.7,826.0 282.3,825.0 283.9,823.1 285.5,822.0 287.1,821.0 288.7,819.3 290.7,815.5 292.7,811.3 295.3,811.3 297.3,806.0 299.3,800.7 302.5,798.0 304.3,791.2 306.0,784.7 308.7,772.7 311.3,776.7 314.0,755.3 316.7,751.3 318.5,755.3 320.3,744.8 322.0,734.0 323.8,732.1 325.6,730.5 327.3,728.7 329.3,722.8 331.3,716.7 333.3,707.9 335.3,699.3 337.2,698.8 339.9,704.7 341.6,702.2 343.3,699.3 345.3,698.9 347.3,698.5 350.0,710.0 352.7,719.3 354.7,722.6 356.7,726.0 358.7,732.9 360.7,739.3 362.7,747.2 364.7,755.3 367.3,767.3 369.2,763.3 371.3,782.0 373.3,789.8 375.3,798.0 377.3,807.4 379.3,816.7 381.1,820.2 382.9,824.0 384.7,827.3 386.4,830.7 388.2,834.4 390.0,838.0 391.8,838.6 393.6,839.7 395.3,840.5 397.1,841.5 398.9,842.6 400.7,843.3 402.4,843.6 404.2,844.7 406.0,845.1 407.8,845.7 409.6,846.0 411.3,846.5 413.1,847.0 414.9,847.4 416.7,847.8 418.4,848.2 420.2,848.6 422.0,849.2 423.6,849.3 425.2,849.6 426.8,850.0 428.4,850.2 430.0,850.3 431.6,850.3 433.2,850.6 434.8,850.9 436.4,851.2 438.0,851.3 439.7,851.5 441.4,851.7 443.1,851.9 444.8,851.8 446.5,852.0 448.2,852.3 449.9,852.3 451.6,852.6 453.3,852.6 455.0,852.6 456.7,852.9 458.3,852.9 459.9,852.9 461.5,853.0 463.1,853.0 464.7,853.0 466.3,853.0 467.9,852.9 469.5,853.0 471.1,852.9 472.7,852.9 474.3,853.0 475.9,852.9 477.5,853.1 479.1,853.0 480.7,853.0 482.3,852.9 483.9,853.1 485.5,853.0 487.1,852.9 488.7,853.0 490.3,852.9 491.9,853.0 493.5,852.9 495.1,853.1 496.7,853.0 498.3,853.1 499.9,853.0 501.5,853.1 503.1,853.0 504.7,853.1 506.3,853.0 507.9,853.1 509.5,853.1 511.1,853.1 512.7,853.0 514.3,853.0 515.9,853.0 517.5,853.0 519.1,853.1 520.7,853.0 522.3,853.1 523.9,853.0 525.5,853.1 527.1,853.0 528.7,853.1 530.3,853.1 531.9,853.1 533.5,853.2 535.1,853.1 536.7,853.1 538.3,853.0 539.9,853.1 541.5,853.2 543.1,853.1 544.7,853.1 546.3,853.1 547.9,853.2 549.5,853.2 551.1,853.1 552.7,853.1 554.3,853.1 555.9,853.2 557.5,853.2 559.1,853.1 560.7,853.1 562.3,853.1 563.9,853.2 565.5,853.2 567.1,853.1 568.7,853.2 570.3,853.1 571.9,853.3 573.5,853.2 575.1,853.3 576.7,853.2" fill="none" stroke="#2f4fe6" stroke-width="1.3" stroke-linejoin="round"/>
<line x1="174.80" y1="689.20" x2="174.80" y2="853.50" stroke="#444" stroke-width="1.5"/>
<line x1="177.60" y1="690.20" x2="177.60" y2="852.50" stroke="#3040e8" stroke-width="2.0"/>
<text x="560.50" y="728.20" font-size="23.5" text-anchor="end" font-weight="normal" fill="#000" stroke="#000" stroke-width="0.28">NAC</text>
<line x1="181.30" y1="889.70" x2="260.80" y2="889.70" stroke="#000" stroke-width="2.2"/>
<polygon points="268.8,889.7 255.0,882.8 255.0,896.6" fill="#000"/>
<text x="289.00" y="895.30" font-size="27.8" fill="#000" stroke="#000" stroke-width="0.28">H<tspan font-size="17.4" dy="6.0">2</tspan><tspan font-size="27.8" dy="-6.0">O</tspan><tspan font-size="17.4" dy="6.0">2</tspan></text>
<text x="635.60" y="459.70" font-size="40.3" text-anchor="start" font-weight="normal" fill="#000" stroke="#000" stroke-width="0.28">E</text>
<text x="650.40" y="778.00" font-size="25.5" text-anchor="start" font-weight="normal" fill="#000" transform="rotate(-90 650.40 778.00)" stroke="#000" stroke-width="0.28">Increase in ROS</text>
<text x="681.00" y="759.70" font-size="25.7" text-anchor="start" font-weight="normal" fill="#000" transform="rotate(-90 681.00 759.70)" stroke="#000" stroke-width="0.28">(fold change)</text>
<line x1="768.70" y1="554.40" x2="768.70" y2="795.40" stroke="#444" stroke-width="1.4"/>
<line x1="761.00" y1="788.40" x2="926.70" y2="788.40" stroke="#444" stroke-width="1.4"/>
<line x1="761.70" y1="788.40" x2="775.70" y2="788.40" stroke="#444" stroke-width="1.4"/>
<text x="745.20" y="798.26" font-size="23.5" text-anchor="end" font-weight="normal" fill="#333" stroke="#333" stroke-width="0.28">0</text>
<line x1="761.70" y1="741.80" x2="775.70" y2="741.80" stroke="#444" stroke-width="1.4"/>
<text x="745.20" y="751.66" font-size="23.5" text-anchor="end" font-weight="normal" fill="#333" stroke="#333" stroke-width="0.28">0.5</text>
<line x1="761.70" y1="695.20" x2="775.70" y2="695.20" stroke="#444" stroke-width="1.4"/>
<text x="745.20" y="705.06" font-size="23.5" text-anchor="end" font-weight="normal" fill="#333" stroke="#333" stroke-width="0.28">1</text>
<line x1="761.70" y1="648.60" x2="775.70" y2="648.60" stroke="#444" stroke-width="1.4"/>
<text x="745.20" y="658.46" font-size="23.5" text-anchor="end" font-weight="normal" fill="#333" stroke="#333" stroke-width="0.28">1.5</text>
<line x1="761.70" y1="602.00" x2="775.70" y2="602.00" stroke="#444" stroke-width="1.4"/>
<text x="745.20" y="611.86" font-size="23.5" text-anchor="end" font-weight="normal" fill="#333" stroke="#333" stroke-width="0.28">2</text>
<line x1="761.70" y1="555.40" x2="775.70" y2="555.40" stroke="#444" stroke-width="1.4"/>
<text x="745.20" y="565.26" font-size="23.5" text-anchor="end" font-weight="normal" fill="#333" stroke="#333" stroke-width="0.28">2.5</text>
<line x1="847.20" y1="781.40" x2="847.20" y2="795.40" stroke="#444" stroke-width="1.4"/>
<line x1="926.00" y1="781.40" x2="926.00" y2="795.40" stroke="#444" stroke-width="1.4"/>
<rect x="792.10" y="695.30" width="31.80" height="93.10" fill="#4080f7" stroke="#0c1a3a" stroke-width="1.5"/>
<line x1="808.00" y1="686.20" x2="808.00" y2="704.40" stroke="#1a1a1a" stroke-width="1.5"/>
<line x1="802.75" y1="686.20" x2="813.25" y2="686.20" stroke="#1a1a1a" stroke-width="1.5"/>
<line x1="802.75" y1="704.40" x2="813.25" y2="704.40" stroke="#1a1a1a" stroke-width="1.5"/>
<rect x="871.00" y="622.60" width="31.70" height="165.80" fill="#ff2a00" stroke="#3a0a04" stroke-width="1.5"/>
<line x1="886.85" y1="593.40" x2="886.85" y2="651.50" stroke="#1a1a1a" stroke-width="1.5"/>
<line x1="881.60" y1="593.40" x2="892.10" y2="593.40" stroke="#1a1a1a" stroke-width="1.5"/>
<line x1="881.60" y1="651.50" x2="892.10" y2="651.50" stroke="#1a1a1a" stroke-width="1.5"/>
<text x="837.00" y="495.70" font-size="24.6" text-anchor="middle" font-weight="normal" fill="#000" stroke="#000" stroke-width="0.28">PBS</text>
<text x="774.20" y="832.00" font-size="24.4" text-anchor="start" font-weight="normal" fill="#333" stroke="#333" stroke-width="0.28">Vector</text>
<text x="914.40" y="832.00" font-size="24.4" text-anchor="end" font-weight="normal" fill="#333" stroke="#333" stroke-width="0.28">miR9</text>
<polyline points="809.4,584.2 809.4,561.5 884.0,561.5 884.0,584.2" fill="none" stroke="#000" stroke-width="2.0" stroke-linejoin="round"/>
<text x="846.70" y="559.51" font-size="27.5" text-anchor="middle" font-weight="normal" fill="#000" stroke="#000" stroke-width="0.5">*</text>
<line x1="1011.80" y1="574.00" x2="1011.80" y2="801.60" stroke="#444" stroke-width="1.4"/>
<line x1="1005.00" y1="794.60" x2="1161.80" y2="794.60" stroke="#444" stroke-width="1.4"/>
<line x1="1004.80" y1="794.60" x2="1018.80" y2="794.60" stroke="#444" stroke-width="1.4"/>
<text x="990.70" y="804.46" font-size="23.5" text-anchor="end" font-weight="normal" fill="#333" stroke="#333" stroke-width="0.28">0</text>
<line x1="1004.80" y1="721.40" x2="1018.80" y2="721.40" stroke="#444" stroke-width="1.4"/>
<text x="990.70" y="731.26" font-size="23.5" text-anchor="end" font-weight="normal" fill="#333" stroke="#333" stroke-width="0.28">0.5</text>
<line x1="1004.80" y1="648.20" x2="1018.80" y2="648.20" stroke="#444" stroke-width="1.4"/>
<text x="990.70" y="658.06" font-size="23.5" text-anchor="end" font-weight="normal" fill="#333" stroke="#333" stroke-width="0.28">1</text>
<line x1="1004.80" y1="575.00" x2="1018.80" y2="575.00" stroke="#444" stroke-width="1.4"/>
<text x="990.70" y="584.86" font-size="23.5" text-anchor="end" font-weight="normal" fill="#333" stroke="#333" stroke-width="0.28">1.5</text>
<line x1="1086.40" y1="787.60" x2="1086.40" y2="801.60" stroke="#444" stroke-width="1.4"/>
<line x1="1161.00" y1="787.60" x2="1161.00" y2="801.60" stroke="#444" stroke-width="1.4"/>
<rect x="1034.60" y="648.20" width="30.40" height="146.40" fill="#4080f7" stroke="#0c1a3a" stroke-width="1.5"/>
<line x1="1049.80" y1="643.00" x2="1049.80" y2="653.90" stroke="#1a1a1a" stroke-width="1.5"/>
<line x1="1044.55" y1="643.00" x2="1055.05" y2="643.00" stroke="#1a1a1a" stroke-width="1.5"/>
<line x1="1044.55" y1="653.90" x2="1055.05" y2="653.90" stroke="#1a1a1a" stroke-width="1.5"/>
<rect x="1108.70" y="662.50" width="30.40" height="132.10" fill="#ff2a00" stroke="#3a0a04" stroke-width="1.5"/>
<line x1="1123.90" y1="633.90" x2="1123.90" y2="691.00" stroke="#1a1a1a" stroke-width="1.5"/>
<line x1="1118.65" y1="633.90" x2="1129.15" y2="633.90" stroke="#1a1a1a" stroke-width="1.5"/>
<line x1="1118.65" y1="691.00" x2="1129.15" y2="691.00" stroke="#1a1a1a" stroke-width="1.5"/>
<text x="1073.50" y="495.70" font-size="24.6" text-anchor="middle" font-weight="normal" fill="#000" stroke="#000" stroke-width="0.28">NAC</text>
<text x="1014.70" y="838.80" font-size="24.4" text-anchor="start" font-weight="normal" fill="#333" stroke="#333" stroke-width="0.28">Vector</text>
<text x="1152.30" y="838.80" font-size="24.4" text-anchor="end" font-weight="normal" fill="#333" stroke="#333" stroke-width="0.28">miR9</text>
<text x="1165.00" y="456.70" font-size="40.3" text-anchor="start" font-weight="normal" fill="#000" stroke="#000" stroke-width="0.28">F</text>
<line x1="1309.50" y1="575.90" x2="1309.50" y2="789.90" stroke="#000" stroke-width="2.0"/>
<line x1="1309.50" y1="788.90" x2="1618.50" y2="788.90" stroke="#000" stroke-width="2.0"/>
<text x="1288.00" y="798.82" font-size="24.5" text-anchor="end" font-weight="normal" fill="#000" stroke="#000" stroke-width="0.28">0</text>
<line x1="1309.50" y1="735.90" x2="1317.50" y2="735.90" stroke="#000" stroke-width="1.8"/>
<text x="1288.00" y="745.37" font-size="24.5" text-anchor="end" font-weight="normal" fill="#000" stroke="#000" stroke-width="0.28">0.4</text>
<line x1="1309.50" y1="682.90" x2="1317.50" y2="682.90" stroke="#000" stroke-width="1.8"/>
<text x="1288.00" y="691.92" font-size="24.5" text-anchor="end" font-weight="normal" fill="#000" stroke="#000" stroke-width="0.28">0.8</text>
<line x1="1309.50" y1="629.90" x2="1317.50" y2="629.90" stroke="#000" stroke-width="1.8"/>
<text x="1288.00" y="638.47" font-size="24.5" text-anchor="end" font-weight="normal" fill="#000" stroke="#000" stroke-width="0.28">1.2</text>
<line x1="1309.50" y1="576.90" x2="1317.50" y2="576.90" stroke="#000" stroke-width="1.8"/>
<text x="1288.00" y="585.02" font-size="24.5" text-anchor="end" font-weight="normal" fill="#000" stroke="#000" stroke-width="0.28">1.6</text>
<line x1="1411.40" y1="781.90" x2="1411.40" y2="788.90" stroke="#000" stroke-width="1.4"/>
<line x1="1514.40" y1="781.90" x2="1514.40" y2="788.90" stroke="#000" stroke-width="1.4"/>
<line x1="1617.80" y1="781.90" x2="1617.80" y2="788.90" stroke="#000" stroke-width="1.4"/>
<rect x="1331.40" y="657.00" width="29.30" height="131.90" fill="#999999" stroke="#000" stroke-width="2.5"/>
<rect x="1360.70" y="722.40" width="29.30" height="66.50" fill="#000" stroke="#000" stroke-width="1"/>
<line x1="1346.05" y1="652.30" x2="1346.05" y2="660.50" stroke="#000" stroke-width="2.4"/>
<line x1="1339.05" y1="652.30" x2="1353.05" y2="652.30" stroke="#000" stroke-width="2.4"/>
<line x1="1339.05" y1="660.50" x2="1353.05" y2="660.50" stroke="#000" stroke-width="2.4"/>
<line x1="1375.35" y1="696.40" x2="1375.35" y2="722.40" stroke="#000" stroke-width="2.4"/>
<line x1="1368.35" y1="696.40" x2="1382.35" y2="696.40" stroke="#000" stroke-width="2.4"/>
<rect x="1433.20" y="657.00" width="30.10" height="131.90" fill="#999999" stroke="#000" stroke-width="2.5"/>
<rect x="1463.30" y="757.00" width="29.70" height="31.90" fill="#000" stroke="#000" stroke-width="1"/>
<line x1="1448.25" y1="603.00" x2="1448.25" y2="710.40" stroke="#000" stroke-width="2.4"/>
<line x1="1441.25" y1="603.00" x2="1455.25" y2="603.00" stroke="#000" stroke-width="2.4"/>
<line x1="1441.25" y1="710.40" x2="1455.25" y2="710.40" stroke="#000" stroke-width="2.4"/>
<line x1="1478.15" y1="751.70" x2="1478.15" y2="757.00" stroke="#000" stroke-width="2.4"/>
<line x1="1471.15" y1="751.70" x2="1485.15" y2="751.70" stroke="#000" stroke-width="2.4"/>
<rect x="1536.20" y="657.00" width="29.80" height="131.90" fill="#999999" stroke="#000" stroke-width="2.5"/>
<rect x="1566.00" y="755.10" width="29.30" height="33.80" fill="#000" stroke="#000" stroke-width="1"/>
<line x1="1551.10" y1="596.60" x2="1551.10" y2="716.40" stroke="#000" stroke-width="2.4"/>
<line x1="1544.10" y1="596.60" x2="1558.10" y2="596.60" stroke="#000" stroke-width="2.4"/>
<line x1="1544.10" y1="716.40" x2="1558.10" y2="716.40" stroke="#000" stroke-width="2.4"/>
<line x1="1580.65" y1="741.60" x2="1580.65" y2="755.10" stroke="#000" stroke-width="2.4"/>
<line x1="1573.65" y1="741.60" x2="1587.65" y2="741.60" stroke="#000" stroke-width="2.4"/>
<text x="1360.20" y="825.80" font-size="24.5" text-anchor="middle" font-weight="normal" fill="#000" stroke="#000" stroke-width="0.28">Sod2</text>
<text x="1462.60" y="825.80" font-size="24.5" text-anchor="middle" font-weight="normal" fill="#000" stroke="#000" stroke-width="0.28">Catalase</text>
<text x="1566.30" y="825.80" font-size="24.5" text-anchor="middle" font-weight="normal" fill="#000" stroke="#000" stroke-width="0.28">Gpx</text>
<rect x="1346.70" y="535.70" width="12.20" height="12.20" fill="#999999" stroke="#111" stroke-width="2.4"/>
<text x="1363.60" y="550.80" font-size="24.5" text-anchor="start" font-weight="normal" fill="#000" stroke="#000" stroke-width="0.28">Vector</text>
<rect x="1452.40" y="534.60" width="13.60" height="13.60" fill="#000" stroke="none" stroke-width="0"/>
<text x="1470.90" y="550.80" font-size="24.5" text-anchor="start" font-weight="normal" fill="#000" stroke="#000" stroke-width="0.28">miR9</text>
<text x="1224.30" y="783.00" font-size="24.5" text-anchor="start" font-weight="normal" fill="#000" transform="rotate(-90 1224.30 783.00)" stroke="#000" stroke-width="0.28">Relative Expression</text>
<polyline points="1333.6,653.8 1333.6,636.5 1377.9,636.5 1377.9,653.8" fill="none" stroke="#000" stroke-width="1.6" stroke-linejoin="round"/>
<text x="1358.30" y="658.04" font-size="26" text-anchor="middle" font-weight="normal" fill="#000" stroke="#000" stroke-width="0.5">*</text>
<polyline points="1441.5,604.9 1441.5,588.0 1485.9,588.0 1485.9,604.9" fill="none" stroke="#000" stroke-width="1.6" stroke-linejoin="round"/>
<text x="1462.40" y="607.24" font-size="26" text-anchor="middle" font-weight="normal" fill="#000" stroke="#000" stroke-width="0.5">*</text>
<polyline points="1551.1,597.0 1551.1,579.8 1595.1,579.8 1595.1,597.0" fill="none" stroke="#000" stroke-width="1.6" stroke-linejoin="round"/>
<text x="1572.60" y="599.64" font-size="26" text-anchor="middle" font-weight="normal" fill="#000" stroke="#000" stroke-width="0.5">*</text>
</svg>
</body>
</html>
